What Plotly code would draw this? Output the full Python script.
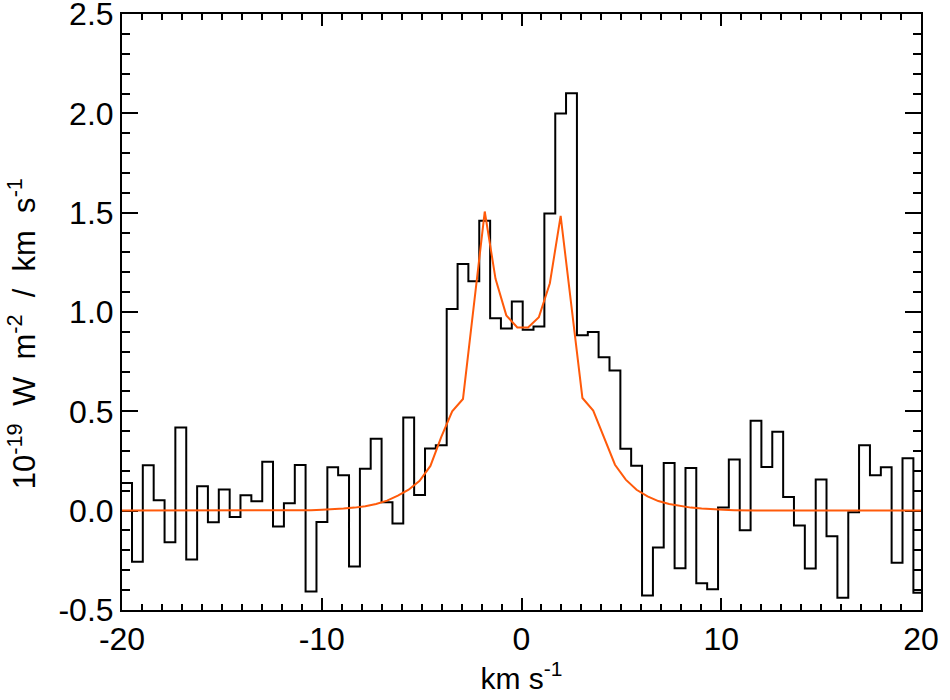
"""
Line profile: observed spectrum (histogram) with the model fit
"""
import plotly.graph_objects as go

# channel centres (km/s)
vel = [-19.77, -19.23, -18.69, -18.14, -17.60, -17.06, -16.51, -15.97, -15.43, -14.88,
       -14.34, -13.80, -13.25, -12.71, -12.17, -11.62, -11.08, -10.54, -9.99, -9.45,
       -8.91, -8.36, -7.82, -7.28, -6.73, -6.19, -5.65, -5.10, -4.56, -4.02,
       -3.47, -2.93, -2.39, -1.84, -1.30, -0.76, -0.21, 0.33, 0.87, 1.42,
       1.96, 2.50, 3.05, 3.59, 4.13, 4.68, 5.22, 5.76, 6.31, 6.85,
       7.39, 7.94, 8.48, 9.02, 9.57, 10.11, 10.65, 11.20, 11.74, 12.28,
       12.83, 13.37, 13.91, 14.46, 15.00, 15.54, 16.09, 16.63, 17.17, 17.72,
       18.26, 18.80, 19.35, 19.89]

# observed flux (1e-19 W m^-2 / km s^-1)
flux = [0.139, -0.258, 0.228, 0.052, -0.159, 0.419, -0.246, 0.122, -0.059, 0.106,
        -0.032, 0.077, 0.047, 0.246, -0.080, 0.037, 0.230, -0.407, -0.057, 0.218,
        0.178, -0.282, 0.211, 0.362, 0.042, -0.065, 0.469, 0.079, 0.313, 0.329,
        1.015, 1.242, 1.155, 1.460, 0.969, 0.917, 1.053, 0.910, 0.927, 1.496,
        1.999, 2.101, 0.883, 0.899, 0.772, 0.705, 0.312, 0.226, -0.428, -0.186,
        0.240, -0.290, 0.215, -0.366, -0.396, 0.016, 0.257, -0.099, 0.453, 0.220,
        0.397, 0.069, -0.075, -0.292, 0.156, -0.129, -0.439, -0.008, 0.329, 0.178,
        0.218, -0.263, 0.263, -0.414]

# model profile at the same channels
model = [0.0, 0.0, 0.0, 0.0, 0.0, 0.0, 0.0, 0.0, 0.0, 0.0,
         0.0, 0.0, 0.0, 0.0, 0.0, 0.0, 0.0, 0.002, 0.004, 0.006,
         0.010, 0.015, 0.022, 0.033, 0.050, 0.075, 0.105, 0.150, 0.225, 0.370,
         0.500, 0.562, 1.040, 1.506, 1.167, 0.983, 0.922, 0.922, 0.974, 1.145,
         1.484, 1.020, 0.567, 0.504, 0.364, 0.231, 0.156, 0.105, 0.072, 0.048,
         0.033, 0.022, 0.015, 0.010, 0.006, 0.004, 0.002, 0.0, 0.0, 0.0,
         0.0, 0.0, 0.0, 0.0, 0.0, 0.0, 0.0, 0.0, 0.0, 0.0,
         0.0, 0.0, 0.0, 0.0]

x_ticks = [-20, -10, 0, 10, 20]
y_ticks = [-0.5, 0.0, 0.5, 1.0, 1.5, 2.0, 2.5]

# pad half a channel on each side so the steps reach the frame
w = vel[1] - vel[0]
x_pad = [vel[0] - w / 2] + vel + [vel[-1] + w / 2]

FONT = 'Liberation Sans, Arial, Helvetica, sans-serif'

fig = go.Figure()

fig.add_trace(go.Scatter(
    x=x_pad,
    y=[flux[0]] + flux + [flux[-1]],
    mode='lines',
    line=dict(color='black', width=2, shape='hvh'),
    showlegend=False
))

fig.add_trace(go.Scatter(
    x=x_pad,
    y=[model[0]] + model + [model[-1]],
    mode='lines',
    line=dict(color='#ff5a0a', width=2),
    showlegend=False
))

axis_common = dict(
    showgrid=False,
    zeroline=False,
    showline=True,
    linecolor='black',
    linewidth=2,
    mirror='ticks',
    ticks='inside',
    tickcolor='black',
    tickwidth=1.5,
    automargin=False,
    layer='below traces',
    ticklabeloverflow='allow',
    tickfont=dict(family=FONT, size=32, color='black'),
)

fig.update_xaxes(
    **axis_common,
    range=[-20.001, 20.001],
    tickvals=x_ticks,
    ticktext=[str(t) for t in x_ticks],
    ticklen=12,
    minor=dict(dtick=1, ticks='inside', ticklen=6, tickcolor='black', tickwidth=1.5),
    title=dict(text='km s<sup>-1</sup>', font=dict(family=FONT, size=30, color='black'),
               standoff=2),
)

fig.update_yaxes(
    **axis_common,
    range=[-0.5005, 2.5005],
    tickvals=y_ticks,
    ticktext=[f'{t:.1f}' for t in y_ticks],
    ticklen=16,
    minor=dict(dtick=0.1, ticks='inside', ticklen=8, tickcolor='black', tickwidth=1.5),
)

# y title as an annotation so it sits where the original one does
fig.add_annotation(
    text='10<sup>-19</sup>&nbsp; W&nbsp; m<sup>-2</sup>&nbsp; /&nbsp; km&nbsp; s<sup>-1</sup>',
    xref='paper', yref='paper',
    x=-0.125, y=0.463,
    xanchor='center', yanchor='middle',
    textangle=-90,
    showarrow=False,
    font=dict(family=FONT, size=31, color='black'),
)

fig.update_layout(
    width=950,
    height=700,
    margin=dict(l=122, r=29, t=14, b=90),
    plot_bgcolor='white',
    paper_bgcolor='white',
)

fig.write_html("out.html", config={'displayModeBar': False},
               post_script="document.body.style.margin='0';")
